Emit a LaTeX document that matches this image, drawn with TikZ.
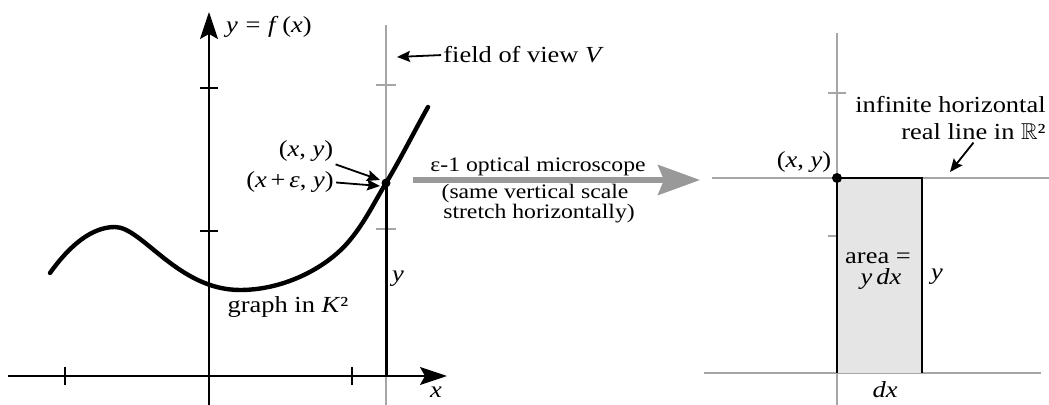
\documentclass[tikz,border=0pt]{standalone}
\usepackage{amssymb}
\usepackage{fontspec}
\setmainfont{Liberation Serif}[FakeStretch=1.15]
\usetikzlibrary{arrows.meta}
\newcommand\iv[1]{\textit{#1}}
\begin{document}
\begin{tikzpicture}[x=0.5pt,y=-0.5pt,
  txt/.style={font=\fontsize{11.5}{12}\selectfont, inner sep=1pt, anchor=base},
  txtsmall/.style={font=\fontsize{10.3}{11}\selectfont, inner sep=1pt, anchor=base},
  blackaxis/.style={line width=1pt, draw=black},
  axisarrow/.style={-{Stealth[length=13.5pt,width=9pt,inset=2.5pt]}},
  grayrule/.style={line width=1pt, draw=black!35},
  tickmark/.style={line width=1pt},
  pointer/.style={line width=0.9pt, -{Stealth[length=6.5pt,width=5.5pt,inset=1pt]}},
  curvestyle/.style={line width=2.2pt, line cap=round, line join=round},
  bigarrow/.style={line width=2.6pt, draw=black!40, -{Stealth[length=21pt,width=15pt,inset=3pt]}},
]
\useasboundingbox (0,0) rectangle (1049,405);

% ---------- left panel ----------
\coordinate (xl) at (8,376);
\coordinate (xr) at (447,376);
\coordinate (yb) at (209,405);
\coordinate (yt) at (209,12);
\coordinate (fvtop) at (386,25);
\coordinate (fvbot) at (386,405);
\coordinate (P) at (386,183);
\coordinate (Pfoot) at (386,376);

\draw[grayrule] (fvtop) -- (fvbot);
\draw[grayrule] (376,85) -- (396,85);
\draw[grayrule] (376,229) -- (396,229);

\draw[blackaxis, axisarrow] (xl) -- (xr);
\draw[blackaxis, axisarrow] (yb) -- (yt);
\draw[tickmark] (65,367) -- (65,385);
\draw[tickmark] (352,367) -- (352,385);
\draw[tickmark] (200,88) -- (218,88);
\draw[tickmark] (200,231) -- (218,231);

\draw[line width=1.5pt] (P) -- (Pfoot);

\draw[curvestyle] (50,273) .. controls (70,245) and (92,227) .. (115,227)
   .. controls (142,227) and (178,290) .. (240,290)
   .. controls (285,290) and (328,267) .. (350,240)
   .. controls (365,222) and (375,201) .. (P)
   .. controls (400,160) and (415,130) .. (428,107);
\fill (P) circle (4.5);

\node[txt] (fx) at (269,33) {\iv{y}\,\,=\,\,\iv{f}\,(\iv{x})};
\node[txt, anchor=base west] (fov) at (441,63) {field of view \iv{V}};
\coordinate (fovtip) at (397,57);
\draw[pointer] (fov.west) -- (fovtip);

\node[txt] (xy1) at (306,157) {(\iv{x}, \iv{y})};
\node[txt] (xe) at (290,188) {(\iv{x}\,+\,\iv{ε}, \iv{y})};
\coordinate (Pa) at (380,180);
\coordinate (Pb) at (380,186);
\draw[pointer] (xy1.south east) -- (Pa);
\draw[pointer] (xe.east) -- (Pb);

\node[txt] (graph) at (288,313) {graph in \iv{K}²};
\node[txt] (ylab) at (398,282) {\iv{y}};
\node[txt] (xlab) at (436,398) {\iv{x}};

% ---------- microscope arrow ----------
\coordinate (mA) at (413,180);
\coordinate (mB) at (700,180);
\draw[bigarrow] (mA) -- (mB);
\node[txtsmall] (m1) at (538,172) {ε-1 optical microscope};
\node[txtsmall] (m2) at (535,199) {(same vertical scale};
\node[txtsmall] (m3) at (539,219) {stretch horizontally)};

% ---------- right panel ----------
\coordinate (Q) at (837,178);
\coordinate (Qfoot) at (837,373);
\coordinate (R) at (922,178);
\coordinate (Rfoot) at (922,373);
\draw[grayrule] (837,33) -- (837,405);
\draw[grayrule] (712,178) -- (1049,178);
\draw[grayrule] (704,373) -- (1041,373);
\draw[grayrule] (828,93) -- (846,93);
\draw[grayrule] (828,236) -- (846,236);
\fill[black!10] (Q) rectangle (Rfoot);
\draw[line width=1.2pt] (Qfoot) -- (Q) -- (R) -- (Rfoot);
\fill (Q) circle (5);

\node[txt] (xy2) at (804,168) {(\iv{x}, \iv{y})};
\node[txt, anchor=base east] (inf) at (1048,113) {infinite horizontal};
\node[txt, anchor=base east] (rl) at (1048,140) {real line in $\mathbb{R}$²};
\coordinate (inftip) at (950,172);
\draw[pointer] (rl.south) -- (inftip);

\node[txt] (ar1) at (878,264) {area =};
\node[txt] (ar2) at (881,285) {\iv{y}\,\iv{dx}};
\node[txt] (ylab2) at (937,280) {\iv{y}};
\node[txt] (dxlab) at (885,398) {\iv{dx}};
\end{tikzpicture}
\end{document}
